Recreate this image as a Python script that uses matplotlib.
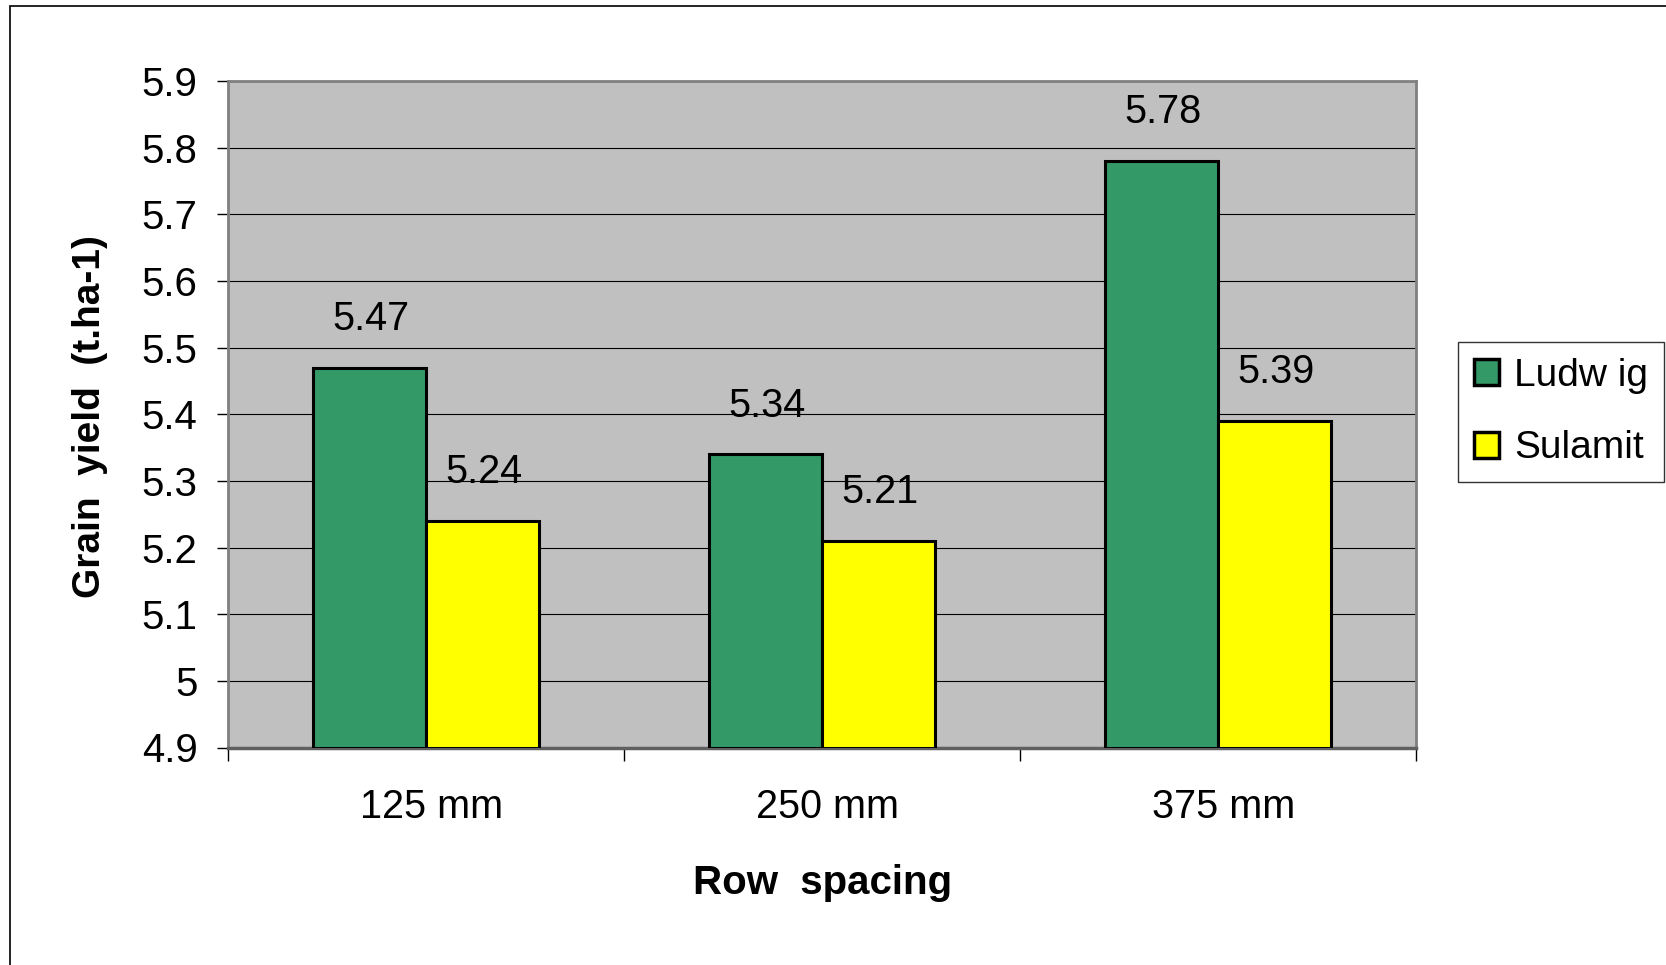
import matplotlib
matplotlib.use("Agg")
import matplotlib.pyplot as plt
import matplotlib.patches as mpatches
import matplotlib.transforms as mtransforms
import numpy as np

plt.rcParams['font.family'] = ['Liberation Sans', 'DejaVu Sans']

categories = ["125 mm", "250 mm", "375 mm"]
series_names = ["Ludw ig", "Sulamit"]
ludwig = [5.47, 5.34, 5.78]
sulamit = [5.24, 5.21, 5.39]
yticks = [4.9, 5.0, 5.1, 5.2, 5.3, 5.4, 5.5, 5.6, 5.7, 5.8, 5.9]
ytick_labels = ["4.9", "5", "5.1", "5.2", "5.3", "5.4", "5.5", "5.6", "5.7", "5.8", "5.9"]

W, H = 1666, 965
fig = plt.figure(figsize=(W / 100, H / 100), dpi=100)
fig.patch.set_facecolor("white")

# figure outer border (only left/top visible)
fig.add_artist(mpatches.Rectangle((10 / W, -0.1), 1.2, 1.1 - 6 / H, transform=fig.transFigure,
                                  fill=False, edgecolor="black", linewidth=1.2, clip_on=False))

ax = fig.add_axes([228 / W, 1 - 747.5 / H, (1416 - 228) / W, (747.5 - 81) / H])
ax.set_facecolor("#C0C0C0")

x = np.arange(len(categories))
bw = 0.2857
green = "#339966"
yellow = "#FFFF00"
ax.bar(x - bw / 2, np.array(ludwig) - 4.9, bw, bottom=4.9, color=green,
       edgecolor="black", linewidth=2.2, zorder=3)
ax.bar(x + bw / 2, np.array(sulamit) - 4.9, bw, bottom=4.9, color=yellow,
       edgecolor="black", linewidth=2.2, zorder=3)

for xs, vals in ((x - bw / 2, ludwig), (x + bw / 2, sulamit)):
    for xi, v in zip(xs, vals):
        ax.annotate(f"{v:.2f}", (xi, v), xytext=(1, 35), textcoords="offset points",
                    ha="center", va="center", fontsize=28.5, color="black", zorder=4)

ax.set_xlim(-0.5, 2.5)
ax.set_ylim(4.9, 5.9)
ax.set_yticks(yticks)
ax.set_yticklabels(ytick_labels)
ax.yaxis.grid(True, color="black", linewidth=0.8, zorder=1)
ax.set_axisbelow(True)

ax.set_xticks(x)
ax.set_xticklabels(categories)
ax.set_xticks([-0.5, 0.5, 1.5, 2.5], minor=True)
ax.tick_params(axis="x", which="major", length=0, pad=29, labelsize=28.5)
ax.tick_params(axis="x", which="minor", length=9, width=1, color="black", direction="out")
ax.tick_params(axis="y", length=8, width=1, color="black", direction="out", pad=14, labelsize=29)

shift = mtransforms.ScaledTranslation(6 / 100, 0, fig.dpi_scale_trans)
for lbl in ax.get_xticklabels():
    lbl.set_transform(lbl.get_transform() + shift)

for s in ("top", "right", "left"):
    ax.spines[s].set_color("#808080")
    ax.spines[s].set_linewidth(2)
ax.spines["bottom"].set_color("#606060")
ax.spines["bottom"].set_linewidth(2.5)

fig.text(90 / W, 1 - 417 / H, "Grain  yield  (t.ha-1)", rotation=90, ha="center", va="center",
         fontsize=28, fontweight="bold")
fig.text(823 / W, 1 - 883 / H, "Row  spacing", ha="center", va="center",
         fontsize=29, fontweight="bold")

handles = [mpatches.Patch(facecolor=green, edgecolor="black", linewidth=2.5),
           mpatches.Patch(facecolor=yellow, edgecolor="black", linewidth=2.5)]
leg = fig.legend(handles, series_names, loc="upper left",
                 bbox_to_anchor=(1458 / W, 1 - 342 / H), fontsize=28, frameon=True,
                 fancybox=False, edgecolor="black", handlelength=0.65, handleheight=0.65,
                 handletextpad=0.4, borderpad=0.4, labelspacing=0.95, borderaxespad=0)
leg.get_frame().set_linewidth(1)

fig.savefig("out.png", dpi=100, facecolor="white")
